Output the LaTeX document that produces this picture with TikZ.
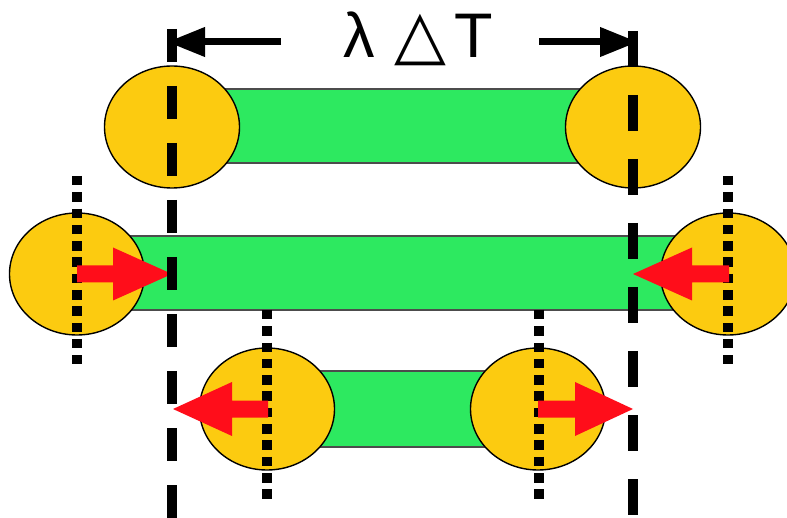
\documentclass[tikz,border=0pt]{standalone}
\usepackage{fontspec}
\setmainfont{Liberation Sans}
\newfontfamily\symfont{DejaVu Sans}
\usetikzlibrary{shapes.geometric,arrows.meta}
\definecolor{bead}{HTML}{FCCB10}
\definecolor{rod}{HTML}{2DE960}
\definecolor{push}{HTML}{FF0D1A}
\tikzset{
  bead/.style={ellipse, draw=black, line width=1.4pt, fill=bead,
    minimum width=135pt, minimum height=122pt, inner sep=0pt},
  rod/.style={rectangle, draw=black!70, line width=1.1pt, fill=rod,
    inner sep=0pt},
  bound/.style={line width=10pt, line cap=butt},
  dotmark/.style={line width=10pt, line cap=butt, dash pattern=on 9.5pt off 6.8pt},
  spanarrow/.style={line width=7pt, -{Triangle[length=38pt,width=28pt]}},
  push/.style={fill=push}
}
\begin{document}
\begin{tikzpicture}[x=1pt, y=-1pt]
\useasboundingbox (0,0) rectangle (787,518);

% rods (drawn first, beads cover their ends)
\node[rod, minimum width=354pt, minimum height=74pt] (rodA) at (403,126) {};
\node[rod, minimum width=560pt, minimum height=74pt] (rodB) at (405,273) {};
\node[rod, minimum width=180pt, minimum height=76pt] (rodC) at (405,409) {};

% beads
\node[bead] (a1) at (172,127) {};
\node[bead] (a2) at (633,127) {};
\node[bead] (b1) at (77,274) {};
\node[bead] (b2) at (728,274) {};
\node[bead] (c1) at (267,409) {};
\node[bead] (c2) at (538,409) {};

% dotted position marks
\coordinate (mb1t) at (77,176);  \coordinate (mb1b) at (77,364);
\coordinate (mb2t) at (728,176); \coordinate (mb2b) at (728,364);
\coordinate (mc1t) at (267,310); \coordinate (mc1b) at (267,499);
\coordinate (mc2t) at (539,310); \coordinate (mc2b) at (539,499);
\draw[dotmark] (mb1t) -- (mb1b);
\draw[dotmark] (mb2t) -- (mb2b);
\draw[dotmark] (mc1t) -- (mc1b);
\draw[dotmark] (mc2t) -- (mc2b);

% red displacement arrows
\fill[push] (77,265.5) -- (113,265.5) -- (113,247.5) -- (172,274)
  -- (113,300.5) -- (113,282.5) -- (77,282.5) -- cycle;
\fill[push] (729,265.5) -- (692,265.5) -- (692,247.5) -- (633,274)
  -- (692,300.5) -- (692,282.5) -- (729,282.5) -- cycle;
\fill[push] (268,400.5) -- (232,400.5) -- (232,382) -- (173,409)
  -- (232,436) -- (232,417.5) -- (268,417.5) -- cycle;
\fill[push] (538,400.5) -- (575,400.5) -- (575,382) -- (633,409)
  -- (575,436) -- (575,417.5) -- (538,417.5) -- cycle;

% dashed bounds
\coordinate (ltop) at (172,29);  \coordinate (lbot) at (172,518);
\coordinate (rtop) at (633,31);  \coordinate (rbot) at (633,518);
\draw[bound, dash pattern=on 33pt off 24pt] (ltop) -- (lbot);
\draw[bound, dash pattern=on 36pt off 28pt] (rtop) -- (rbot);

% span arrows and label
\node[anchor=base west, font=\fontsize{63}{70}\selectfont, inner sep=0pt] (lbl) at (343,58)
  {\makebox[51pt][l]{λ}\makebox[60pt][l]{\scalebox{1.07}{\symfont △}}T};
\coordinate (sl) at (281,42); \coordinate (sle) at (167,42);
\coordinate (sr) at (539,42); \coordinate (sre) at (638,42);
\draw[spanarrow] (sl) -- (sle);
\draw[spanarrow] (sr) -- (sre);
\end{tikzpicture}
\end{document}
